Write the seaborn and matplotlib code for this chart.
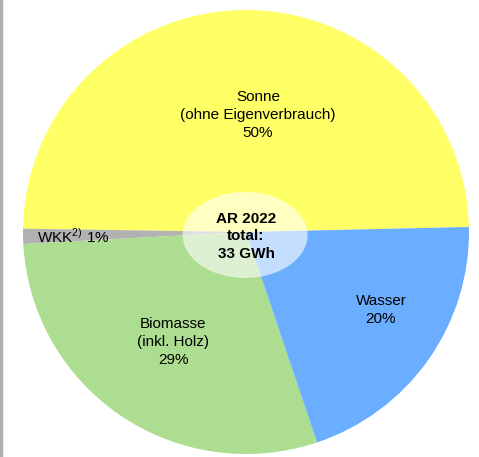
import matplotlib
matplotlib.use("Agg")
import matplotlib.pyplot as plt
import seaborn as sns
from matplotlib.patches import Ellipse
from matplotlib.lines import Line2D

# Anteile Stromproduktion AR 2022 (aus der Grafik geschaetzt)
sources = ["Sonne", "WKK", "Biomasse", "Wasser"]
shares = [49.4, 1.1, 29.3, 20.2]
labels = ["Sonne\n(ohne Eigenverbrauch)\n50%", "WKK$^{\\mathregular{2)}}$ 1%",
          "Biomasse\n(inkl. Holz)\n29%", "Wasser\n20%"]
colors = ["#FFFF66", "#B2B2B2", "#ACDD90", "#6BAEFF"]
center_text = "AR 2022\ntotal:\n33 GWh"

sns.set_style("white")
plt.rcParams['font.family'] = ['Liberation Sans', 'DejaVu Sans']
plt.rcParams['mathtext.fontset'] = 'custom'
plt.rcParams['mathtext.rm'] = 'Liberation Sans'
plt.rcParams['text.color'] = 'black'

fig = plt.figure(figsize=(4.79, 4.57), dpi=100)
ax = fig.add_axes([0, 0, 1, 1])

wedges, _ = ax.pie(shares, colors=colors, startangle=1.3, counterclock=True,
                   radius=1, wedgeprops=dict(linewidth=0))
ax.set_aspect('auto')
ax.set_xlim(-246 / 223, (479 - 246) / 223)
ax.set_ylim(-(457 - 232) / 222, 232 / 222)
ax.axis('off')

# Beschriftungen
label_pos = [(0.054, 0.527, 'center'), (-0.937, -0.018, 'left'),
             (-0.327, -0.495, 'center'), (0.605, -0.351, 'center')]
for lab, (x, y, ha) in zip(labels, label_pos):
    ax.text(x, y, lab, ha=ha, va='center', fontsize=11, linespacing=1.38,
            color='black')

# Mitte
ax.add_patch(Ellipse((-0.004, -0.0135), 0.56, 0.387, facecolor='white',
                     alpha=0.6, edgecolor='none', zorder=3))
ax.text(0.0, -0.02, center_text, ha='center', va='center', fontsize=11,
        fontweight='bold', linespacing=1.33, zorder=4, color='black')

# grauer Rand links
fig.add_artist(Line2D([0.002, 0.002], [0, 1], color='#B0B0B0', lw=2.5,
                      transform=fig.transFigure))

fig.savefig("out.png", dpi=100)
